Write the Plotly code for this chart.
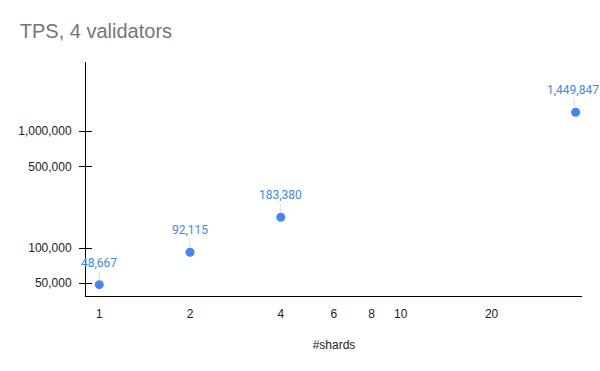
import numpy as np
import plotly.graph_objects as go

# data
shards = [1, 2, 4, 38]
tps = [48667, 92115, 183380, 1449847]
x_ticks = [1, 2, 4, 6, 8, 10, 20]
y_ticks = [50000, 100000, 500000, 1000000]
y_tick_text = [f"{v:,}" for v in y_ticks]

blue = "#4285F4"
font = "Arial, Liberation Sans, sans-serif"

fig = go.Figure()
fig.add_trace(go.Scatter(
    x=shards, y=tps, mode="markers",
    marker=dict(size=9, color=blue),
    hoverinfo="x+y", showlegend=False,
))

# data labels with thin leader lines (last one nudged so it stays inside the page)
for i, (x, y) in enumerate(zip(shards, tps)):
    fig.add_annotation(
        x=np.log10(x), y=np.log10(y), xref="x", yref="y",
        text=f"{y:,}", showarrow=True, arrowhead=0, arrowwidth=1,
        arrowcolor="#d9d9d9", ax=-3 if i == len(shards) - 1 else 0, ay=-22, standoff=5,
        font=dict(family="Roboto, sans-serif", size=12, color=blue),
    )

x_range = [-0.044, 1.601]
y_range = [4.590, 6.591]

fig.update_layout(
    width=600, height=371,
    margin=dict(l=86, r=18, t=62, b=75),
    paper_bgcolor="white", plot_bgcolor="white",
    title=dict(text="TPS, 4 validators", x=0.033, xanchor="left", y=0.916, yanchor="middle",
               font=dict(family=font, size=20, color="#757575")),
    font=dict(family=font, size=12, color="#222222"),
    xaxis=dict(
        type="log", range=x_range, tickvals=x_ticks, ticktext=[str(t) for t in x_ticks],
        showgrid=False, zeroline=False, showline=True, linecolor="#000000", linewidth=1,
        ticks="", ticklabelstandoff=7,
        title=dict(text="#shards", standoff=20, font=dict(size=12, color="#222222")),
    ),
    yaxis=dict(
        type="log", range=y_range, tickvals=y_ticks, ticktext=y_tick_text,
        showgrid=False, zeroline=False, showline=True, linecolor="#000000", linewidth=1,
        ticks="outside", ticklen=6, tickcolor="#000000", tickwidth=1, ticklabelstandoff=5,
    ),
    yaxis2=dict(
        type="log", range=y_range, tickvals=y_ticks, overlaying="y", side="left",
        showgrid=False, zeroline=False, showline=False, showticklabels=False,
        ticks="inside", ticklen=6, tickcolor="#000000", tickwidth=1,
    ),
)

# invisible trace to show the inside half of the y ticks
fig.add_trace(go.Scatter(x=[shards[0]], y=[tps[0]], yaxis="y2", mode="markers",
                         marker=dict(opacity=0), hoverinfo="skip", showlegend=False))

# drop the default page margin so the figure sits at the window's corner
fig.write_html("out.html", config={"displayModeBar": False},
               post_script="document.body.style.margin='0';")
